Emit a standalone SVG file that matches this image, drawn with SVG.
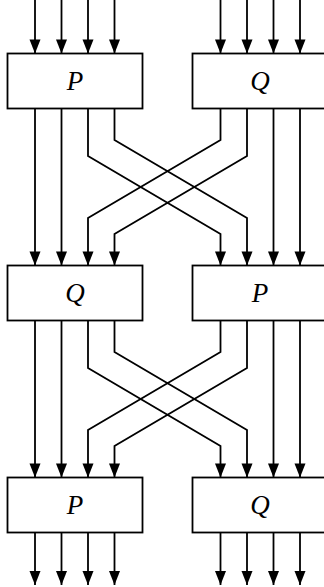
<svg xmlns="http://www.w3.org/2000/svg" width="324" height="587" viewBox="0 0 324 587">
<style>
.box{fill:#fff;stroke:#000;stroke-width:1.8}
.lbl{font-family:"Liberation Serif","DejaVu Serif",serif;font-style:italic;font-size:27px;text-anchor:middle;fill:#000}
.w{fill:none;stroke:#000;stroke-width:1.8;marker-end:url(#ah)}
</style>
<defs>
<marker id="ah" markerUnits="userSpaceOnUse" markerWidth="16" markerHeight="12" refX="14" refY="5.5" orient="auto" overflow="visible">
<path d="M0,0 L14,5.5 L0,11 Z" fill="#000"/>
</marker>
</defs>
<rect width="324" height="587" fill="#fff"/>
<g id="connectors">
<path class="w" d="M35,0 V53.5"/>
<path class="w" d="M61.5,0 V53.5"/>
<path class="w" d="M88,0 V53.5"/>
<path class="w" d="M114.5,0 V53.5"/>
<path class="w" d="M220.5,0 V53.5"/>
<path class="w" d="M247,0 V53.5"/>
<path class="w" d="M273.5,0 V53.5"/>
<path class="w" d="M300,0 V53.5"/>
<path class="w" d="M35,108.5 V265.5"/>
<path class="w" d="M61.5,108.5 V265.5"/>
<path class="w" d="M88,108.5 V156 L220.5,234 V265.5"/>
<path class="w" d="M114.5,108.5 V140 L247,218 V265.5"/>
<path class="w" d="M220.5,108.5 V140 L88,218 V265.5"/>
<path class="w" d="M247,108.5 V156 L114.5,234 V265.5"/>
<path class="w" d="M273.5,108.5 V265.5"/>
<path class="w" d="M300,108.5 V265.5"/>
<path class="w" d="M35,320.5 V477.5"/>
<path class="w" d="M61.5,320.5 V477.5"/>
<path class="w" d="M88,320.5 V368 L220.5,446 V477.5"/>
<path class="w" d="M114.5,320.5 V352 L247,430 V477.5"/>
<path class="w" d="M220.5,320.5 V352 L88,430 V477.5"/>
<path class="w" d="M247,320.5 V368 L114.5,446 V477.5"/>
<path class="w" d="M273.5,320.5 V477.5"/>
<path class="w" d="M300,320.5 V477.5"/>
<path class="w" d="M35,532.5 V585"/>
<path class="w" d="M61.5,532.5 V585"/>
<path class="w" d="M88,532.5 V585"/>
<path class="w" d="M114.5,532.5 V585"/>
<path class="w" d="M220.5,532.5 V585"/>
<path class="w" d="M247,532.5 V585"/>
<path class="w" d="M273.5,532.5 V585"/>
<path class="w" d="M300,532.5 V585"/>
</g>
<g id="P1"><rect class="box" x="7.5" y="53.5" width="135" height="55"/><text class="lbl" x="75" y="90">P</text></g>
<g id="Q1"><rect class="box" x="192.5" y="53.5" width="135" height="55"/><text class="lbl" x="260" y="90">Q</text></g>
<g id="Q2"><rect class="box" x="7.5" y="265.5" width="135" height="55"/><text class="lbl" x="75" y="302">Q</text></g>
<g id="P2"><rect class="box" x="192.5" y="265.5" width="135" height="55"/><text class="lbl" x="260" y="302">P</text></g>
<g id="P3"><rect class="box" x="7.5" y="477.5" width="135" height="55"/><text class="lbl" x="75" y="514">P</text></g>
<g id="Q3"><rect class="box" x="192.5" y="477.5" width="135" height="55"/><text class="lbl" x="260" y="514">Q</text></g>
</svg>
